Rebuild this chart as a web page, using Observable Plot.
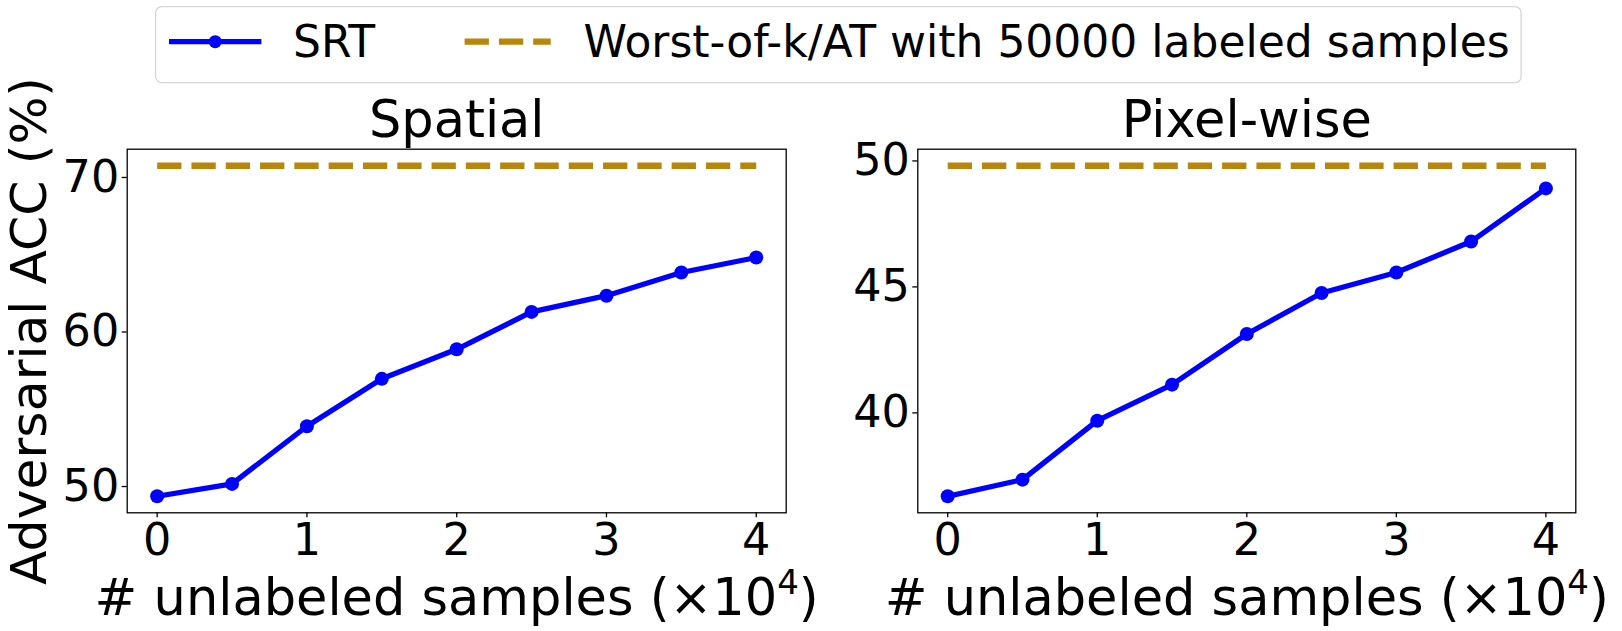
<!DOCTYPE html>
<html>
<head>
<meta charset="utf-8">
<script src="https://cdn.jsdelivr.net/npm/d3@7"></script>
<script src="https://cdn.jsdelivr.net/npm/@observablehq/plot@0.6"></script>
<style>
  html, body { margin: 0; padding: 0; background: white; }
  #chart { position: relative; width: 1622px; height: 631px; overflow: hidden; font-family: "DejaVu Sans", sans-serif; }
  #chart svg { position: absolute; }
</style>
</head>
<body>
<div id="chart"></div>
<script>
// ---- data ----
const xValues = [0, 0.5, 1, 1.5, 2, 2.5, 3, 3.5, 4];
const spatialSRT = [49.37, 50.17, 53.9, 56.97, 58.88, 61.3, 62.35, 63.85, 64.82];
const pixelSRT = [36.69, 37.35, 39.69, 41.12, 43.13, 44.76, 45.57, 46.8, 48.91];
const spatialBaseline = 70.76;
const pixelBaseline = 49.81;
const xTicks = [0, 1, 2, 3, 4];
const spatialYTicks = [50, 60, 70];
const pixelYTicks = [40, 45, 50];
const panelTitles = ["Spatial", "Pixel-wise"];
const xLabelMain = "# unlabeled samples (×10";
const xLabelSup = "4";
const yLabel = "Adversarial ACC (%)";
const legendLabels = ["SRT", "Worst-of-k/AT with 50000 labeled samples"];

const BLUE = "#0000ff";
const GOLD = "#b8860b";
const FONT = "DejaVu Sans";

function padded(vals) {
  const lo = d3.min(vals), hi = d3.max(vals), m = (hi - lo) * 0.05;
  return [lo - m, hi + m];
}

const chart = document.getElementById("chart");

function panel({series, baseline, yTicks, title, left, width, marginLeft, marginRight, showYLabel}) {
  const pts = xValues.map((x, i) => ({x, y: series[i]}));
  const base = [{x: xValues[0], y: baseline}, {x: xValues[xValues.length - 1], y: baseline}];
  const marks = [
    Plot.axisX(xTicks, {tickSize: 5, tickPadding: 6, strokeWidth: 1.3, fontSize: 44.5, label: null, tickFormat: d => String(d)}),
    Plot.axisY(yTicks, {tickSize: 5, tickPadding: 3, strokeWidth: 1.3, fontSize: 44.5, label: null, tickFormat: d => String(d)}),
    Plot.line(base, {x: "x", y: "y", stroke: GOLD, strokeWidth: 6.3, strokeDasharray: "24.3,10", strokeLinecap: "butt"}),
    Plot.line(pts, {x: "x", y: "y", stroke: BLUE, strokeWidth: 5.3, strokeLinejoin: "round", strokeLinecap: "square"}),
    Plot.dot(pts, {x: "x", y: "y", r: 7, fill: BLUE, stroke: "none"}),
    Plot.frame({stroke: "black", strokeWidth: 1.3}),
    Plot.text([title], {frameAnchor: "top", lineAnchor: "bottom", dy: -12, fontSize: 51, fill: "black"}),
    Plot.text([xLabelMain], {frameAnchor: "bottom", lineAnchor: "bottom", dy: 101.7, fontSize: 51, fill: "black"})
  ];
  if (showYLabel) {
    marks.push(Plot.text([yLabel], {frameAnchor: "left", textAnchor: "middle", lineAnchor: "bottom", rotate: -90, dx: 45 - marginLeft, fontSize: 50.5, fill: "black"}));
  }
  const svg = Plot.plot({
    width, height: 631,
    marginLeft, marginRight, marginTop: 148.7, marginBottom: 118.7,
    x: {domain: padded(xValues), label: null},
    y: {domain: padded(series.concat([baseline])), label: null},
    style: {fontFamily: FONT, fontSize: "44.5px", background: "none", overflow: "visible", color: "black"},
    marks
  });
  svg.style.left = left + "px";
  svg.style.top = "0px";
  svg.style.maxWidth = "none";
  // superscript in the x label
  svg.querySelectorAll("text").forEach(t => {
    if (t.textContent === xLabelMain) {
      const ns = "http://www.w3.org/2000/svg";
      const s = document.createElementNS(ns, "tspan");
      s.setAttribute("dy", "-21");
      s.setAttribute("font-size", "34");
      s.textContent = xLabelSup;
      const c = document.createElementNS(ns, "tspan");
      c.setAttribute("dy", "21");
      c.textContent = ")";
      t.appendChild(s);
      t.appendChild(c);
    }
  });
  chart.appendChild(svg);
}

panel({series: spatialSRT, baseline: spatialBaseline, yTicks: spatialYTicks, title: panelTitles[0],
       left: 0, width: 811, marginLeft: 126.7, marginRight: 25.3, showYLabel: true});
panel({series: pixelSRT, baseline: pixelBaseline, yTicks: pixelYTicks, title: panelTitles[1],
       left: 811, width: 811, marginLeft: 106.3, marginRight: 46.7, showYLabel: false});

// ---- legend ----
const lg = d3.select(chart).append("svg")
  .attr("width", 1622).attr("height", 100)
  .style("left", "0px").style("top", "0px")
  .attr("font-family", FONT);
lg.append("rect").attr("x", 155.6).attr("y", 6.7).attr("width", 1365.5).attr("height", 76)
  .attr("rx", 6).attr("fill", "white").attr("stroke", "#d6d6d6").attr("stroke-width", 1.3);
lg.append("line").attr("x1", 169).attr("x2", 261.4).attr("y1", 41.7).attr("y2", 41.7)
  .attr("stroke", BLUE).attr("stroke-width", 5.3);
lg.append("circle").attr("cx", 215.2).attr("cy", 41.7).attr("r", 6.5).attr("fill", BLUE);
lg.append("text").attr("x", 293).attr("y", 57).attr("font-size", 44).text(legendLabels[0]);
lg.append("line").attr("x1", 464.6).attr("x2", 550.7).attr("y1", 41.7).attr("y2", 41.7)
  .attr("stroke", GOLD).attr("stroke-width", 6.3).attr("stroke-dasharray", "24.3,10");
lg.append("text").attr("x", 583.5).attr("y", 57).attr("font-size", 44).text(legendLabels[1]);
</script>
</body>
</html>
